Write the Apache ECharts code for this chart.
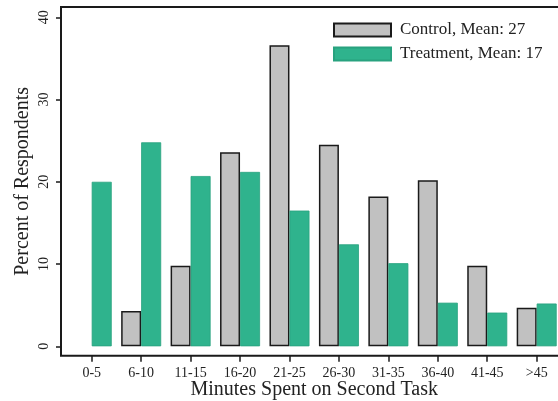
<!DOCTYPE html>
<html>
<head>
<meta charset="utf-8">
<script src="https://cdn.jsdelivr.net/npm/echarts@6/dist/echarts.min.js"></script>
<style>
html,body{margin:0;padding:0;background:#fff;}
#chart{width:558px;height:401px;}
</style>
</head>
<body>
<div id="chart"></div>
<script>
var categories = ['0-5','6-10','11-15','16-20','21-25','26-30','31-35','36-40','41-45','>45'];
var controlValues = [0, 4.3, 9.8, 23.6, 36.6, 24.5, 18.2, 20.2, 9.8, 4.7];
var treatmentValues = [20.0, 24.8, 20.7, 21.2, 16.5, 12.4, 10.1, 5.3, 4.1, 5.2];
var yTicks = [0, 10, 20, 30, 40];
var controlName = 'Control, Mean: 27';
var treatmentName = 'Treatment, Mean: 17';

var FONT = 'Liberation Serif';
var INK = '#1a1a1a';
var Y_MIN = -1.143, Y_MAX = 41.25;

function barData(values) {
  return values.map(function (v) {
    return v === 0 ? {value: v, itemStyle: {borderWidth: 0}} : v;
  });
}

var chart = echarts.init(document.getElementById('chart'), null, {renderer: 'canvas'});
chart.setOption({
  animation: false,
  backgroundColor: '#fff',
  grid: [
    {left: 61, top: 7, right: -4, bottom: 45.3, show: true, borderColor: INK, borderWidth: 2,
     backgroundColor: 'transparent', containLabel: false, outerBoundsMode: 'none'},
    {left: 67, top: 7, right: -3.4, bottom: 45.3, containLabel: false, outerBoundsMode: 'none'}
  ],
  xAxis: [
    {gridIndex: 0, type: 'value', show: false, min: 0, max: 1},
    {
      gridIndex: 1, type: 'category', data: categories,
      axisLine: {show: false, onZero: false},
      axisTick: {show: true, alignWithLabel: true, length: 6, lineStyle: {color: INK, width: 1.5}},
      axisLabel: {fontFamily: FONT, fontSize: 14, color: '#222', margin: 11, interval: 0},
      name: 'Minutes Spent on Second Task',
      nameLocation: 'middle', nameGap: 24, nameMoveOverlap: false,
      nameTextStyle: {fontFamily: FONT, fontSize: 20, color: '#222'}
    }
  ],
  yAxis: [
    {
      gridIndex: 0, type: 'value', min: Y_MIN, max: Y_MAX,
      axisLine: {show: false},
      splitLine: {show: false},
      axisTick: {show: true, customValues: yTicks, length: 5, lineStyle: {color: INK, width: 1.5}},
      axisLabel: {customValues: yTicks, rotate: 90, fontFamily: FONT, fontSize: 14, color: '#222', margin: 10},
      name: 'Percent of Respondents',
      nameLocation: 'middle', nameGap: 28, nameMoveOverlap: false,
      nameTextStyle: {fontFamily: FONT, fontSize: 20, color: '#222'}
    },
    {gridIndex: 1, type: 'value', min: Y_MIN, max: Y_MAX, show: false}
  ],
  legend: {
    orient: 'vertical', left: 333, top: 21.5, padding: 0,
    itemWidth: 57, itemHeight: 13, itemGap: 7,
    icon: 'rect',
    textStyle: {fontFamily: FONT, fontSize: 17, color: '#222', padding: [0, 0, 0, 4]},
    data: [controlName, treatmentName]
  },
  series: [
    {
      name: controlName, type: 'bar', xAxisIndex: 1, yAxisIndex: 1,
      data: barData(controlValues), barWidth: 20, barGap: '0%',
      itemStyle: {color: '#c1c1c1', borderColor: INK, borderWidth: 1.5}
    },
    {
      name: treatmentName, type: 'bar', xAxisIndex: 1, yAxisIndex: 1,
      data: barData(treatmentValues), barWidth: 20, barGap: '0%',
      itemStyle: {color: '#2fb38d', borderColor: '#28a27f', borderWidth: 0.8}
    }
  ]
});
</script>
</body>
</html>
